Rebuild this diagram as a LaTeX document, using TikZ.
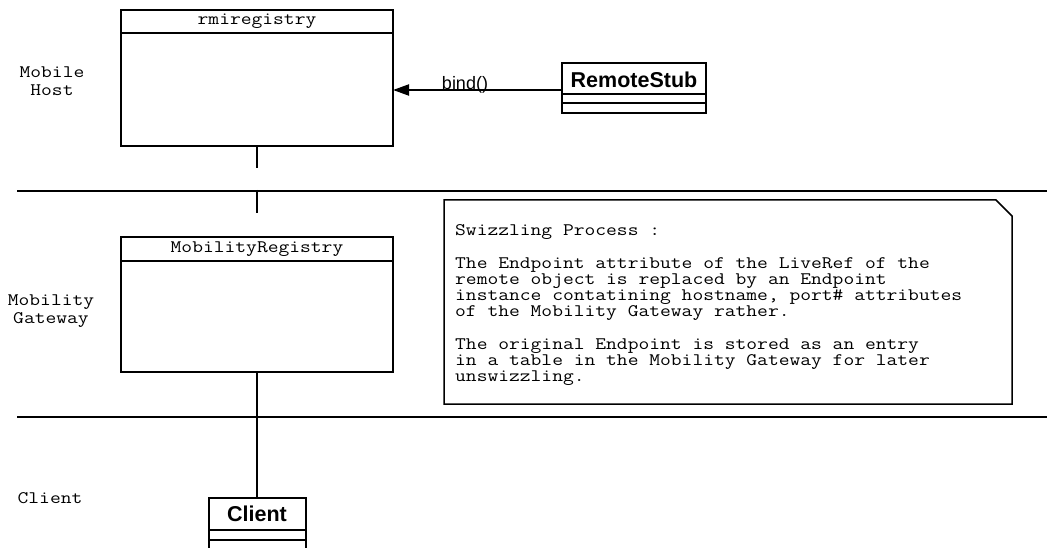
\documentclass[tikz,border=0pt]{standalone}
\usepackage{fontspec}
\usepackage{graphicx}
\setmainfont{Liberation Sans}
\usetikzlibrary{arrows.meta}
% widened typewriter text
\newcommand\wide[1]{\scalebox{1.19}[1]{#1}}
\begin{document}
\begin{tikzpicture}[x=1pt,y=-1pt,
  classbox/.style={draw, line width=2pt, inner sep=0pt, outer sep=0pt, anchor=north west},
  rule/.style={line width=2pt},
  mono/.style={font=\ttfamily\fontsize{17.6}{18}\selectfont, inner sep=0pt},
  classname/.style={font=\bfseries\fontsize{21.5}{21.5}\selectfont, inner sep=0pt},
  msg/.style={font=\fontsize{18}{18}\selectfont, inner sep=0pt},
  callarrow/.style={line width=2pt, -{Triangle[length=16pt,width=11pt]}},
  notetext/.style={font=\ttfamily\fontsize{17.6}{16.2}\selectfont, inner sep=0pt, anchor=north west}]
\useasboundingbox (0,0) rectangle (1047,548);
\clip (0,0) rectangle (1047,548);

% tier labels
\node[mono, align=center] (lblhost) at (52,81) {\wide{Mobile}\\\wide{Host}};
\node[mono, align=center] (lblgw) at (51,311) {\wide{Mobility}\\\wide{Gateway}};
\node[mono] (lblclient) at (50,498) {\wide{Client}};

% tier separators
\coordinate (sepAl) at (17,191);  \coordinate (sepAr) at (1047,191);
\coordinate (sepBl) at (17,417);  \coordinate (sepBr) at (1047,417);
\draw[rule] (sepAl) -- (sepAr);
\draw[rule] (sepBl) -- (sepBr);

% rmiregistry
\node[classbox, minimum width=272pt, minimum height=136pt] (rmi) at (121,10) {};
\draw[rule] ([yshift=-23pt]rmi.north west) -- ([yshift=-23pt]rmi.north east);
\node[mono] (rmititle) at ([yshift=-11.5pt]rmi.north) {\wide{rmiregistry}};

% MobilityRegistry
\node[classbox, minimum width=272pt, minimum height=135pt] (mob) at (121,237) {};
\draw[rule] ([yshift=-24pt]mob.north west) -- ([yshift=-24pt]mob.north east);
\node[mono] (mobtitle) at ([yshift=-12pt]mob.north) {\wide{MobilityRegistry}};

% RemoteStub
\node[classbox, minimum width=144pt, minimum height=50pt] (stub) at (562,63) {};
\draw[rule] ([yshift=-31pt]stub.north west) -- ([yshift=-31pt]stub.north east);
\draw[rule] ([yshift=-40pt]stub.north west) -- ([yshift=-40pt]stub.north east);
\node[classname] (stubtitle) at ([yshift=-16.5pt]stub.north) {RemoteStub};

% Client
\node[classbox, minimum width=97pt, minimum height=62pt] (client) at (208.5,498) {};
\draw[rule] ([yshift=-32pt]client.north west) -- ([yshift=-32pt]client.north east);
\draw[rule] ([yshift=-42pt]client.north west) -- ([yshift=-42pt]client.north east);
\node[classname] (clienttitle) at ([yshift=-16pt]client.north) {Client};

% links
\coordinate (rmistub) at ([yshift=-22pt]rmi.south);
\coordinate (mobstubA) at ([yshift=-44pt]rmi.south);
\coordinate (mobstubB) at ([yshift=-67pt]rmi.south);
\draw[rule] (rmi.south) -- (rmistub);
\draw[rule] (mobstubA) -- (mobstubB);
\draw[rule] (mob.south) -- (client.north);

% bind() call
\coordinate (bindy) at (0,90);
\draw[callarrow] (stub.west |- bindy) -- (rmi.east |- bindy);
\node[msg] (bindlbl) at (465,85) {bind()};

% note
\draw[line width=1.5pt] (444,200) -- (996,200) -- (1012,216) -- (1012,404) -- (444,404) -- cycle;
\node[notetext] (note) at (455,223.5) {\wide{\begin{tabular}{@{}l@{}}
Swizzling Process :\\[17pt]
The Endpoint attribute of the LiveRef of the\\
remote object is replaced by an Endpoint\\
instance contatining hostname, port\# attributes\\
of the Mobility Gateway rather.\\[16.2pt]
The original Endpoint is stored as an entry\\
in a table in the Mobility Gateway for later\\
unswizzling.
\end{tabular}}};
\end{tikzpicture}
\end{document}
